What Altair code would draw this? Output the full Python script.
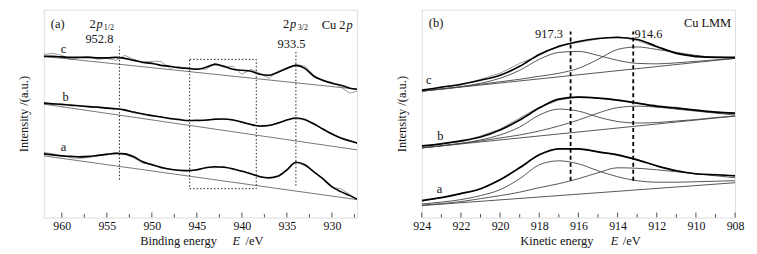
import altair as alt
import pandas as pd

FONT = "Liberation Serif"
W, H = 315, 209

# ---------------- panel (a): Cu 2p, binding energy ----------------
be = [962, 961, 960, 959, 958, 957, 956, 955, 954, 953, 952, 951, 950, 949, 948, 947, 946, 945,
      944, 943, 942, 941, 940, 939, 938, 937, 936, 935, 934, 933, 932, 931, 930, 929, 928, 927.2]
fit_c = [162, 162, 161.5, 161, 161, 161, 160.5, 160.5, 161, 160, 158, 156, 155, 153, 152, 150.5, 150, 149,
         151, 154, 152, 149, 148, 147, 144, 143, 146, 150, 153, 150, 142, 138, 135, 133, 130, 129]
raw_c = [164, 165, 163, 159, 161, 162, 159, 160, 158, 163, 159, 156, 157, 157, 150, 152, 149, 150,
         149, 155, 151, 152, 144, 149, 145, 140, 147, 149, 154, 152, 143, 137, 136, 131, 125, 127]
fit_b = [115, 114.3, 113.6, 113, 112.2, 111.5, 110.8, 110, 109.3, 108, 106, 104, 102.5, 101, 99.5, 98.5, 97.5, 97.5,
         98, 98.8, 99, 98, 96, 93.5, 92, 92.5, 95, 98, 100, 98.5, 94, 89, 84, 80, 77, 75]
raw_b = [115.5, 114, 114.5, 112.5, 112.8, 111, 111.5, 110.3, 109, 108.8, 105.2, 104.5, 101.8, 101.5, 99, 99.2, 97, 98.3,
         97.4, 99.5, 98.6, 98.7, 95.3, 94, 91.5, 92.8, 94.2, 98.6, 99.4, 98, 94.8, 88.3, 84.7, 79.2, 77.8, 74.5]
fit_a = [64, 63, 62, 61.5, 61, 61.5, 62.5, 63.5, 64.5, 64, 61, 56, 53, 50.5, 48.5, 47.5, 47, 48,
         50, 51, 50.5, 49, 46.5, 44, 41, 40, 41.5, 48, 55.5, 53, 46, 39, 31, 26, 22, 18.5]
raw_a = [65.5, 64, 62.5, 60, 59.5, 60.5, 62, 64, 65, 63.5, 60, 54.5, 54, 49.5, 49, 47, 47.8, 47.5,
         50.5, 50, 51.5, 48, 47, 43.5, 41.5, 39, 42, 47, 56, 52, 46.5, 38, 30, 29, 23, 18]
base_be = [962, 927.2]
base_a_c = [162, 129]
base_a_b = [114, 68]
base_a_a = [62, 18]
vline_a_E = [953.6, 934.0]
vline_a_lo = [38, 32]
vline_a_hi = [172, 167]
box_E = [945.8]
box_E2 = [938.4]
box_lo = [29]
box_hi = [159]
ticks_a_major = [960, 955, 950, 945, 940, 935, 930]
ticks_a_minor = [957.5, 952.5, 947.5, 942.5, 937.5, 932.5, 927.5]

# ---------------- panel (b): Cu LMM, kinetic energy ----------------
ke = [924, 923, 922, 921, 920, 919, 918, 917, 916, 915, 914, 913, 912, 911, 910, 909, 908]
env_c = [128, 131, 134, 138, 143, 152, 164, 172, 177, 180, 181, 179, 172, 165, 162, 161, 161]
p1_c = [127, 129, 131.5, 135, 140, 148, 159, 166, 167, 163, 158, 155, 154.5, 155.5, 157, 158.5, 160]
p2_c = [127, 129.5, 131.5, 134, 136.5, 139, 142, 145, 150, 159, 169, 171.5, 169, 166, 163, 161, 160.5]
rw_c = [127, 131.5, 133, 139, 145, 155, 163, 173, 176, 179.5, 182, 178, 171, 166, 161, 162, 160]
env_b = [72, 74, 77, 81, 88, 98, 110, 119, 121, 120, 118, 115, 112, 110, 108, 106, 105]
p1_b = [70, 72, 74.5, 78, 83, 91, 103, 109, 107, 101, 96.5, 95, 95.5, 97, 98.5, 100.5, 102]
p2_b = [70, 72.2, 74.5, 77, 80, 83, 87, 92, 98, 105, 110.5, 112, 111, 109, 107, 105, 103]
rw_b = [71, 74.5, 76, 82, 89, 100, 111, 118, 121.5, 120, 117.5, 115.5, 111, 111, 107.5, 106.5, 104]
env_a = [17, 20, 24, 29, 38, 50, 63, 69, 69, 66, 63, 58, 52, 47, 44, 43, 42]
p1_a = [13.5, 15.5, 18, 22, 28, 39, 53, 57, 54, 47, 41, 37, 35.5, 35.5, 36, 36.5, 37]
p2_a = [12.5, 14, 16, 19, 22, 25.5, 30, 34, 39, 45, 50, 49.5, 48, 46, 44, 42, 40]
rw_a = [16.5, 20, 24.5, 28.5, 38.5, 50.5, 63.5, 69.5, 68.5, 66.5, 62.5, 58.5, 51.5, 47.5, 43.5, 43.5, 41.5]
base_ke = [924, 908]
base_b_c = [127, 160]
base_b_b = [70, 102]
base_b_a = [12, 35]
vline_b_E = [916.4, 913.2]
vline_b_lo = [37, 37]
vline_b_hi = [187, 187]
ticks_b_major = [924, 922, 920, 918, 916, 914, 912, 910, 908]
ticks_b_minor = [923, 921, 919, 917, 915, 913, 911, 909]

# ---------------- annotations ----------------
ann_a_left = [("(a)", 961.23, 191), ("2", 956.93, 191), ("2", 935.43, 191),
              ("Binding energy", 951.3, -28), ("/eV", 939.6, -28)]
ann_a_ital = [("p", 956.16, 191), ("p", 934.66, 191), ("E", 941.05, -28), ("p", 928.37, 190)]
ann_a_sub = [("1/2", 955.33, 188.5), ("3/2", 933.78, 188.5)]
ann_a_center = [("952.8", 955.83, 175), ("933.5", 934.49, 170.5),
                ("c", 959.8, 165), ("b", 959.57, 117), ("a", 959.8, 67)]
ann_a_right = [("Cu 2", 928.48, 190)]

ann_b_left = [("(b)", 923.64, 192), ("914.6", 913.13, 180),
              ("Kinetic energy", 918.97, -28), ("/eV", 913.74, -28)]
ann_b_ital = [("E", 914.35, -28)]
ann_b_center = [("c", 923.64, 134), ("b", 923.05, 78), ("a", 923.09, 25)]
ann_b_right = [("Cu LMM", 908.2, 192), ("917.3", 916.79, 180)]


def long_df(xs, series):
    rows = []
    for name, ys in series.items():
        for x, y in zip(xs, ys):
            rows.append({"E": x, "y": y, "s": name})
    return pd.DataFrame(rows)


def ann_df(items):
    return pd.DataFrame([{"t": t, "E": e, "y": y} for t, e, y in items])


def make_x(dom, major):
    return alt.X("E:Q", scale=alt.Scale(domain=dom, nice=False, zero=False),
                 axis=alt.Axis(values=major, title=None, ticks=False, domain=False, grid=False,
                               labelFont=FONT, labelFontSize=12, labelColor="#111",
                               labelPadding=3, labelFlush=False))


def make_y(field="y"):
    return alt.Y(f"{field}:Q", scale=alt.Scale(domain=[0, 209], nice=False, zero=False),
                 axis=alt.Axis(title="Intensity /(a.u.)", labels=False, ticks=False, domain=False,
                               grid=False, titleFont=FONT, titleFontSize=12.5,
                               titleFontWeight="normal", titleColor="#111", titlePadding=13))


def text_layer(items, X, **kw):
    props = dict(font=FONT, fontSize=12.5, baseline="alphabetic", color="#111")
    props.update(kw)
    return alt.Chart(ann_df(items)).mark_text(**props).encode(x=X, y=make_y(), text="t:N")


def tick_layers(major, minor, X):
    maj = alt.Chart(pd.DataFrame({"E": major})).mark_rule(color="#555", strokeWidth=1).encode(
        x=X, y=alt.value(H), y2=alt.value(H - 5))
    mnr = alt.Chart(pd.DataFrame({"E": minor})).mark_rule(color="#555", strokeWidth=1).encode(
        x=X, y=alt.value(H), y2=alt.value(H - 3.5))
    return [maj, mnr]


# ---------- left chart ----------
XA = make_x([962, 927.2], ticks_a_major)
raw_l = alt.Chart(long_df(be, {"a": raw_a, "b": raw_b, "c": raw_c})).mark_line(
    color="#9a9a9a", strokeWidth=1, clip=True).encode(x=XA, y=make_y(), detail="s:N")
base_l = alt.Chart(long_df(base_be, {"a": base_a_a, "b": base_a_b, "c": base_a_c})).mark_line(
    color="#555", strokeWidth=0.8, clip=True).encode(x=XA, y=make_y(), detail="s:N")
fit_l = alt.Chart(long_df(be, {"a": fit_a, "b": fit_b, "c": fit_c})).mark_line(
    color="black", strokeWidth=1.6, interpolate="monotone", clip=True).encode(x=XA, y=make_y(), detail="s:N")
vl_l = alt.Chart(pd.DataFrame({"E": vline_a_E, "y0": vline_a_lo, "y1": vline_a_hi})).mark_rule(
    color="#222", strokeWidth=1, strokeDash=[1.5, 2]).encode(x=XA, y=make_y("y0"), y2="y1:Q")
box_l = alt.Chart(pd.DataFrame({"E": box_E, "E2": box_E2, "y0": box_lo, "y1": box_hi})).mark_rect(
    fillOpacity=0, stroke="#222", strokeWidth=1, strokeDash=[1.5, 2]).encode(
    x=XA, x2="E2:Q", y=make_y("y0"), y2="y1:Q")

left = alt.layer(
    raw_l, base_l, fit_l, vl_l, box_l,
    *tick_layers(ticks_a_major, ticks_a_minor, XA),
    text_layer(ann_a_left, XA, align="left"),
    text_layer(ann_a_ital, XA, align="left", fontStyle="italic"),
    text_layer(ann_a_sub, XA, align="left", fontSize=8),
    text_layer(ann_a_center, XA, align="center"),
    text_layer(ann_a_right, XA, align="right"),
).properties(width=W, height=H)

# ---------- right chart ----------
XB = make_x([924, 908], ticks_b_major)
raw_r = alt.Chart(long_df(ke, {"a": rw_a, "b": rw_b, "c": rw_c})).mark_line(
    color="#9a9a9a", strokeWidth=1, clip=True).encode(x=XB, y=make_y(), detail="s:N")
comp_r = alt.Chart(long_df(ke, {"a1": p1_a, "a2": p2_a, "b1": p1_b, "b2": p2_b, "c1": p1_c, "c2": p2_c})).mark_line(
    color="#444", strokeWidth=0.9, interpolate="monotone", clip=True).encode(x=XB, y=make_y(), detail="s:N")
base_r = alt.Chart(long_df(base_ke, {"a": base_b_a, "b": base_b_b, "c": base_b_c})).mark_line(
    color="#444", strokeWidth=0.9, clip=True).encode(x=XB, y=make_y(), detail="s:N")
env_r = alt.Chart(long_df(ke, {"a": env_a, "b": env_b, "c": env_c})).mark_line(
    color="black", strokeWidth=1.7, interpolate="monotone", clip=True).encode(x=XB, y=make_y(), detail="s:N")
vl_r = alt.Chart(pd.DataFrame({"E": vline_b_E, "y0": vline_b_lo, "y1": vline_b_hi})).mark_rule(
    color="black", strokeWidth=1.8, strokeDash=[4, 3]).encode(x=XB, y=make_y("y0"), y2="y1:Q")

right = alt.layer(
    raw_r, base_r, comp_r, env_r, vl_r,
    *tick_layers(ticks_b_major, ticks_b_minor, XB),
    text_layer(ann_b_left, XB, align="left"),
    text_layer(ann_b_ital, XB, align="left", fontStyle="italic"),
    text_layer(ann_b_center, XB, align="center"),
    text_layer(ann_b_right, XB, align="right"),
).properties(width=W, height=H)

chart = alt.hconcat(left, right, spacing=65, bounds="flush").properties(
    padding={"left": 9, "top": 0, "right": 4, "bottom": 0}
).configure_view(stroke="#888", strokeWidth=1).configure(background="white")

chart.save("out.html", embed_options={"renderer": "svg", "actions": False})
